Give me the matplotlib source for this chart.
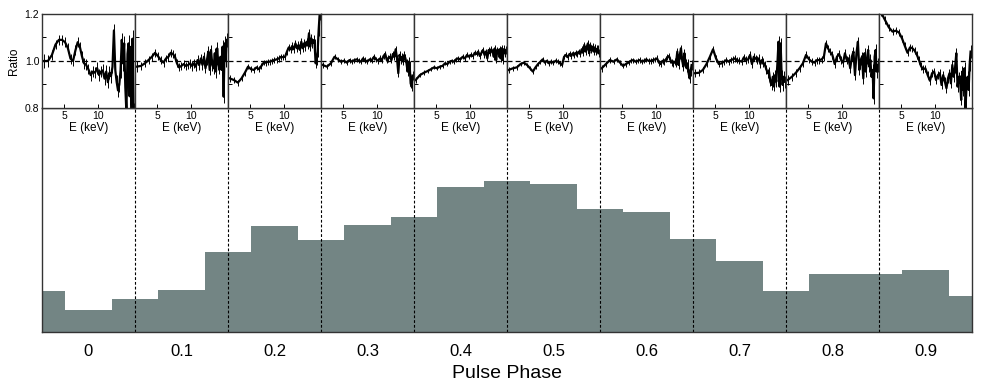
import numpy as np
import matplotlib
matplotlib.use("Agg")
import matplotlib.pyplot as plt
from matplotlib.ticker import FixedLocator, NullLocator

plt.rcParams["font.family"] = ["Liberation Sans", "DejaVu Sans"]

# --- pulse profile (arbitrary normalised rate), bins of 0.05 in phase ---
phase_edges = [-0.05, -0.025, 0.025, 0.075, 0.125, 0.175, 0.225, 0.275, 0.325,
               0.375, 0.425, 0.475, 0.525, 0.575, 0.625, 0.675, 0.725, 0.775,
               0.825, 0.875, 0.925, 0.95]
profile = [0.182, 0.098, 0.147, 0.188, 0.356, 0.472, 0.409, 0.479, 0.513, 0.649,
           0.673, 0.659, 0.549, 0.534, 0.414, 0.316, 0.182, 0.260, 0.260, 0.277,
           0.161]
phase_ticks = [0, 0.1, 0.2, 0.3, 0.4, 0.5, 0.6, 0.7, 0.8, 0.9]
phase_tick_labels = ["0", "0.1", "0.2", "0.3", "0.4", "0.5", "0.6", "0.7", "0.8", "0.9"]
panel_bounds = [0.05, 0.15, 0.25, 0.35, 0.45, 0.55, 0.65, 0.75, 0.85]

# --- phase-resolved spectral ratios ---
energy = [3.3, 3.6, 3.9, 4.2, 4.5, 4.8, 5.1, 5.4, 5.7, 6.0, 6.3, 6.6, 6.9, 7.2,
          7.5, 7.8, 8.2, 8.6, 9.0, 9.4, 9.8, 10.2, 10.6, 11.0, 11.4, 11.8, 12.2,
          12.6, 13.0, 13.4, 13.8, 14.2, 14.6, 15.0, 15.4, 15.8, 16.2, 16.6, 17.0,
          17.4, 17.8, 18.2, 18.6, 19.0, 19.4, 19.8, 20.2, 20.6]
ratio_err = [0.020, 0.017, 0.016, 0.015, 0.015, 0.015, 0.015, 0.015, 0.015, 0.015,
             0.015, 0.015, 0.016, 0.016, 0.016, 0.016, 0.016, 0.017, 0.017, 0.017,
             0.017, 0.018, 0.018, 0.018, 0.018, 0.019, 0.019, 0.019, 0.020, 0.020,
             0.020, 0.021, 0.021, 0.021, 0.022, 0.022, 0.022, 0.023, 0.023, 0.024,
             0.024, 0.025, 0.025, 0.026, 0.026, 0.027, 0.027, 0.028]
err_scale = [1.4, 1.1, 0.8, 0.7, 0.6, 0.6, 0.7, 0.9, 1.0, 1.0]

ratio_p0 = [1.00, 1.00, 1.025, 1.07, 1.09, 1.09, 1.08, 1.055, 1.01, 1.00, 1.045, 1.08,
            1.06, 1.02, 0.99, 0.985, 0.965, 0.94, 0.955, 0.95, 0.97, 0.94, 0.955, 0.96,
            0.925, 0.955, 0.91, 0.95, 0.935, 0.975, 1.13, 0.96, 0.91, 0.875, 0.90, 0.96,
            1.09, 0.99, 1.075, 0.89, 0.78, 1.03, 1.075, 0.85, 1.06, 0.78, 1.095, 0.78]
ratio_p1 = [0.976, 0.979, 0.99, 1.004, 1.018, 1.035, 1.02, 1.004, 0.993, 1.011, 1.018,
            1.035, 1.03, 1.018, 0.99, 0.973, 0.979, 0.987, 0.979, 0.983, 0.99, 0.979,
            0.99, 0.976, 1.004, 0.983, 1.011, 0.983, 1.018, 0.969, 1.004, 1.04, 0.962,
            1.047, 0.983, 0.969, 1.033, 0.955, 1.054, 0.99, 0.969, 1.018, 0.962, 1.061,
            0.848, 1.075, 1.004, 1.09]
ratio_p2 = [0.926, 0.919, 0.908, 0.926, 0.95, 0.976, 0.965, 0.962, 0.973, 0.965, 0.979,
            0.993, 0.993, 0.997, 0.997, 1.001, 1.004, 1.007, 1.011, 1.018, 1.016, 1.018,
            1.04, 1.058, 1.05, 1.064, 1.05, 1.075, 1.054, 1.068, 1.047, 1.082, 1.054,
            1.075, 1.061, 1.082, 1.068, 1.118, 1.061, 1.096, 1.075, 1.089, 1.075, 0.99,
            1.004, 1.04, 1.13, 1.196]
ratio_p3 = [0.983, 0.976, 0.99, 1.018, 1.007, 0.997, 1.001, 0.993, 1.004, 0.997, 1.004,
            1.007, 1.001, 0.997, 1.011, 1.004, 0.997, 1.007, 1.004, 1.018, 1.007, 1.001,
            1.011, 1.004, 1.021, 1.03, 1.004, 1.011, 1.018, 1.004, 1.03, 1.018, 1.05,
            1.011, 0.948, 1.026, 1.004, 1.018, 0.997, 1.026, 1.011, 0.99, 0.955, 0.997,
            0.983, 0.905, 0.891, 0.938]
ratio_p4 = [0.919, 0.94, 0.95, 0.957, 0.965, 0.973, 0.969, 0.976, 0.979, 0.99, 0.987,
            0.997, 1.001, 0.997, 1.007, 1.011, 1.007, 1.018, 1.011, 1.026, 1.018, 1.026,
            1.021, 1.035, 1.03, 1.04, 1.021, 1.035, 1.047, 1.026, 1.04, 1.011, 1.047,
            1.033, 1.05, 1.04, 1.018, 1.054, 1.004, 1.047, 1.033, 1.05, 1.011, 1.054,
            1.004, 1.05, 1.033, 1.047]
ratio_p5 = [0.962, 0.969, 0.973, 0.987, 0.993, 0.983, 0.969, 0.955, 0.973, 0.987, 0.997,
            1.007, 0.993, 1.001, 0.99, 0.997, 0.993, 1.001, 0.997, 0.99, 0.983, 1.018,
            1.026, 1.016, 1.03, 1.021, 1.033, 1.026, 1.035, 1.03, 1.04, 1.03, 1.05, 1.035,
            1.068, 1.04, 1.061, 1.075, 1.033, 1.068, 1.047, 1.061, 1.04, 1.058, 1.04,
            1.05, 1.054, 1.033]
ratio_p6 = [0.969, 0.987, 1.004, 0.997, 1.007, 0.993, 0.979, 0.987, 0.993, 1.001, 1.004,
            0.997, 1.001, 1.004, 0.997, 1.001, 1.007, 1.0, 1.001, 1.004, 1.007, 1.011,
            0.993, 0.987, 1.001, 0.997, 1.007, 1.016, 1.021, 1.004, 0.993, 0.99, 0.997,
            0.99, 1.04, 0.983, 1.026, 1.054, 1.004, 0.976, 1.033, 0.99, 0.969, 0.99,
            0.948, 0.926, 0.955, 0.983]
ratio_p7 = [0.948, 0.95, 0.962, 0.987, 1.018, 1.05, 1.011, 0.987, 0.99, 0.997, 1.004,
            0.997, 1.004, 1.007, 1.011, 1.004, 1.001, 0.997, 1.016, 1.004, 1.007, 1.026,
            0.987, 1.018, 1.011, 1.004, 1.011, 0.987, 1.004, 0.993, 0.983, 0.965, 0.948,
            0.955, 0.912, 0.898, 0.933, 0.891, 0.94, 0.912, 0.99, 1.082, 0.891, 1.075,
            0.94, 0.898, 0.933, 0.912]
ratio_p8 = [0.919, 0.933, 0.95, 0.969, 0.99, 1.026, 1.007, 0.997, 0.993, 1.004, 1.004,
            1.007, 1.018, 1.075, 1.054, 1.04, 1.026, 0.987, 1.018, 1.03, 1.004, 0.993,
            1.033, 1.004, 1.011, 0.969, 1.018, 1.04, 0.94, 1.033, 1.082, 0.962, 1.004,
            1.018, 0.926, 1.033, 0.955, 1.011, 1.047, 0.976, 1.004, 0.933, 0.962, 0.841,
            1.018, 1.047, 0.955, 0.983]
ratio_p9 = [1.21, 1.175, 1.143, 1.125, 1.129, 1.121, 1.096, 1.064, 1.035, 1.058, 1.054,
            1.044, 1.026, 1.004, 0.979, 0.965, 0.969, 0.94, 0.916, 0.948, 0.955, 0.919,
            0.94, 0.948, 0.898, 0.94, 0.912, 0.884, 0.926, 0.948, 0.905, 0.983, 0.933,
            0.969, 1.033, 0.891, 0.933, 0.919, 0.834, 0.955, 0.877, 0.969, 0.80, 0.905,
            0.933, 0.877, 0.983, 1.04]
ratios = [ratio_p0, ratio_p1, ratio_p2, ratio_p3, ratio_p4,
          ratio_p5, ratio_p6, ratio_p7, ratio_p8, ratio_p9]

W, H = 981, 390
fig = plt.figure(figsize=(W / 100, H / 100), dpi=100)

# bottom: pulse profile
left, right = 42, 972
ax = fig.add_axes([left / W, 1 - 332 / H, (right - left) / W, (332 - 108) / H])
ax.stairs(profile, phase_edges, fill=True, color="#738584", baseline=0, lw=0)
for b in panel_bounds:
    ax.axvline(b, color="k", ls=(0, (2.5, 1.8)), lw=0.8)
ax.set_xlim(-0.05, 0.95)
ax.set_ylim(0, 1)
ax.set_xticks(phase_ticks)
ax.set_xticklabels(phase_tick_labels, fontsize=12)
ax.tick_params(axis="x", length=0, pad=9)
ax.set_yticks([])
ax.set_xlabel("Pulse Phase", fontsize=14, labelpad=4)
for s in ax.spines.values():
    s.set_linewidth(1.0)
    s.set_color("#333333")

# top: ratio panels
pw = (right - left) / 10
for i, r in enumerate(ratios):
    a = fig.add_axes([(left + i * pw) / W, 1 - 108 / H, pw / W, (108 - 14) / H])
    err = [e * err_scale[i] for e in ratio_err]
    a.errorbar(energy, r, yerr=err, fmt="-", color="k", lw=1.6,
               elinewidth=0.7, capsize=0)
    a.axhline(1.0, color="k", ls=(0, (4, 2.5)), lw=0.9)
    a.set_xscale("log")
    a.set_xlim(3.19, 21.2)
    a.set_ylim(0.8, 1.2)
    a.xaxis.set_major_locator(FixedLocator([5, 10]))
    a.xaxis.set_minor_locator(NullLocator())
    a.set_xticklabels(["5", "10"], fontsize=7.5)
    a.yaxis.set_major_locator(FixedLocator([0.8, 1.0, 1.2]))
    a.yaxis.set_minor_locator(FixedLocator([0.9, 1.1]))
    a.tick_params(which="both", direction="in", length=3, width=0.7, pad=2)
    a.set_xlabel("E (keV)", fontsize=8.5, labelpad=1)
    if i == 0:
        a.set_yticklabels(["0.8", "1.0", "1.2"], fontsize=7.5)
        a.set_ylabel("Ratio", fontsize=8.5, labelpad=3)
    else:
        a.set_yticklabels([])
    for s in a.spines.values():
        s.set_linewidth(1.0)
        s.set_color("#333333")

fig.savefig("out.png", dpi=100)
